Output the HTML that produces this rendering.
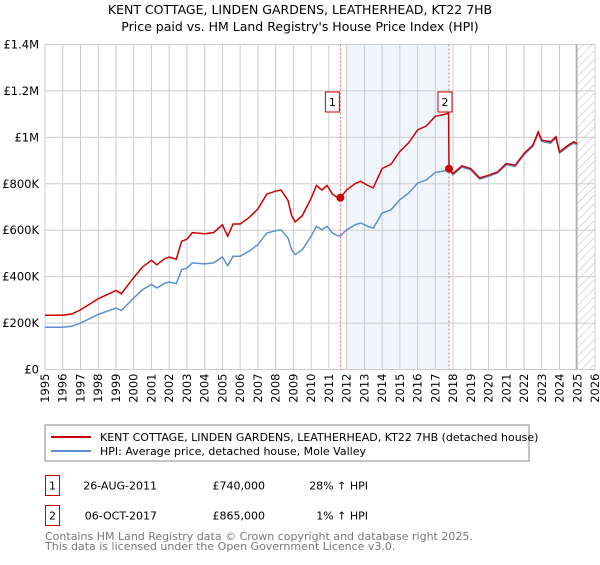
<!DOCTYPE html>
<html><head><meta charset="utf-8"><style>
body{margin:0;background:#fff;font-family:"Liberation Sans","DejaVu Sans",sans-serif;}
svg text{font-family:"DejaVu Sans","Liberation Sans",sans-serif;}
</style></head><body>
<svg id="chart" width="600" height="560" xmlns="http://www.w3.org/2000/svg">
<defs><pattern id="hatch" width="6" height="6" patternUnits="userSpaceOnUse" patternTransform="rotate(45)"><line x1="0" y1="0" x2="0" y2="6" stroke="#bbb" stroke-width="1"/></pattern></defs>
<text x="300" y="14" text-anchor="middle" font-size="12.5">KENT COTTAGE, LINDEN GARDENS, LEATHERHEAD, KT22 7HB</text>
<text x="300" y="31" text-anchor="middle" font-size="12.5">Price paid vs. HM Land Registry's House Price Index (HPI)</text>
<g id="plot"></g>
<rect x="45" y="425" width="484" height="36" fill="#fff" stroke="#888"/>
<line x1="51" y1="437" x2="91" y2="437" stroke="#cc0000" stroke-width="2"/>
<text x="100" y="441" font-size="11">KENT COTTAGE, LINDEN GARDENS, LEATHERHEAD, KT22 7HB (detached house)</text>
<line x1="51" y1="451" x2="91" y2="451" stroke="#5b8fd0" stroke-width="2"/>
<text x="100" y="455" font-size="11">HPI: Average price, detached house, Mole Valley</text>
<g>
<rect x="45.5" y="475.5" width="14" height="20" fill="none" stroke="#cc0000"/>
<text x="52.5" y="489.5" text-anchor="middle" font-size="11">1</text>
<text x="157" y="489.5" text-anchor="end" font-size="11">26-AUG-2011</text>
<text x="265" y="489.5" text-anchor="end" font-size="11">£740,000</text>
<text x="368" y="489.5" text-anchor="end" font-size="11">28% ↑ HPI</text></g>
<g>
<rect x="45.5" y="505.5" width="14" height="20" fill="none" stroke="#cc0000"/>
<text x="52.5" y="519.5" text-anchor="middle" font-size="11">2</text>
<text x="157" y="519.5" text-anchor="end" font-size="11">06-OCT-2017</text>
<text x="265" y="519.5" text-anchor="end" font-size="11">£865,000</text>
<text x="368" y="519.5" text-anchor="end" font-size="11">1% ↑ HPI</text></g>
<text x="45" y="540" font-size="11" fill="#777">Contains HM Land Registry data © Crown copyright and database right 2025.</text>
<text x="45" y="550" font-size="11" fill="#777">This data is licensed under the Open Government Licence v3.0.</text>
</svg>
<script>
const hpiYears=[1995,1996,1996.5,1997,1998,1999,1999.3,2000,2000.5,2001,2001.3,2001.7,2002,2002.4,2002.7,2003,2003.3,2004,2004.5,2005,2005.3,2005.6,2006,2006.5,2007,2007.5,2008,2008.3,2008.7,2008.9,2009.1,2009.5,2010,2010.3,2010.6,2010.9,2011.2,2011.5,2011.65,2012,2012.5,2012.8,2013.2,2013.5,2014,2014.5,2015,2015.5,2016,2016.5,2017,2017.5,2017.77,2018,2018.5,2019,2019.5,2020,2020.5,2021,2021.5,2022,2022.5,2022.8,2023,2023.5,2023.8,2024,2024.5,2024.8,2025];
const hpiValues=[182,182,186,200,237,265,254,308,344,366,351,370,377,370,430,437,459,455,459,485,447,488,488,509,538,588,598,602,566,516,495,516,574,617,602,617,588,576,576,602,624,631,617,609,674,688,731,760,803,817,849,855,860,839,872,860,820,832,846,882,875,925,961,1018,982,975,997,932,961,975,968];
const saleYears=[2011.65,2017.77];
const salePrices=[740,865];
const saleLabels=["1","2"];
const yTicks=[0,200,400,600,800,1000,1200,1400];
const yTickLabels=["£0","£200K","£400K","£600K","£800K","£1M","£1.2M","£1.4M"];
const xTicks=[1995,1996,1997,1998,1999,2000,2001,2002,2003,2004,2005,2006,2007,2008,2009,2010,2011,2012,2013,2014,2015,2016,2017,2018,2019,2020,2021,2022,2023,2024,2025,2026];
const X0=45,X1=595,Y0=369.5,Y1=44.5;
const xs=y=>X0+(y-1995)/31*(X1-X0);
const ys=v=>Y0-v/1400*(Y0-Y1);
const NS="http://www.w3.org/2000/svg";
const g=document.getElementById('plot');
function mk(t,a){const e=document.createElementNS(NS,t);for(const k in a)e.setAttribute(k,a[k]);g.appendChild(e);return e;}
function hpiAt(y){for(let i=1;i<hpiYears.length;i++){if(y<=hpiYears[i]){const t=(y-hpiYears[i-1])/(hpiYears[i]-hpiYears[i-1]);return hpiValues[i-1]+t*(hpiValues[i]-hpiValues[i-1]);}}return hpiValues[hpiValues.length-1];}
// shaded and hatched
let e=mk('rect',{x:xs(2012),y:Y1,width:xs(saleYears[1])-xs(2012),height:Y0-Y1,fill:'#eef3fc',opacity:0.8});


e=mk('rect',{x:xs(2025),y:Y1,width:X1-xs(2025),height:Y0-Y1,fill:'url(#hatch)'});


xTicks.forEach(t=>{
 const l=mk('line',{x1:xs(t),x2:xs(t),y1:Y1,y2:Y0,stroke:'#ccc','stroke-width':1});
 
 
 const tx=mk('text',{x:0,y:0,'font-size':11.5,'text-anchor':'end',transform:`translate(${xs(t)+4},${Y0+4}) rotate(-90)`});
 tx.textContent=t;
 
 
});
yTicks.forEach((t,i)=>{
 const l=mk('line',{x1:X0,x2:X1,y1:ys(t),y2:ys(t),stroke:'#ccc','stroke-width':1});
 
 
 const tx=mk('text',{x:39,y:ys(t)+4,'font-size':11.5,'text-anchor':'end'});
 tx.textContent=yTickLabels[i];
 
 
});
e=mk('line',{x1:xs(2025)-1,x2:xs(2025)-1,y1:Y1,y2:Y0,stroke:'#999'});


saleYears.forEach((s,i)=>{
 const l=mk('line',{x1:xs(s),x2:xs(s),y1:Y1,y2:Y0,stroke:'#e66','stroke-dasharray':'2,2'});
 
 
});
// HPI line
let d=hpiYears.map((y,i)=>(i?'L':'M')+xs(y).toFixed(1)+','+ys(hpiValues[i]).toFixed(1)).join('');
e=mk('path',{d:d,fill:'none',stroke:'#5b8fd0','stroke-width':1.5});


// property line indexed from sales
const r1=salePrices[0]/hpiAt(saleYears[0]),r2=salePrices[1]/hpiAt(saleYears[1]);
let pts=[];
hpiYears.forEach((y,i)=>{if(y<saleYears[1])pts.push([y,hpiValues[i]*r1]);});
pts.push([saleYears[1]-0.02,hpiAt(saleYears[1])*r1]);
pts.push([saleYears[1],salePrices[1]]);
hpiYears.forEach((y,i)=>{if(y>saleYears[1])pts.push([y,hpiValues[i]*r2]);});
d=pts.map((p,i)=>(i?'L':'M')+xs(p[0]).toFixed(1)+','+ys(p[1]).toFixed(1)).join('');
e=mk('path',{d:d,fill:'none',stroke:'#cc0000','stroke-width':1.5});


saleYears.forEach((s,i)=>{
 const c=mk('circle',{cx:xs(s),cy:ys(salePrices[i]),r:4,fill:'#cc0000'});
 
 
 const bx=xs(s)-(i===0?8:4)-7;
 const r=mk('rect',{x:bx,y:92,width:14,height:20,fill:'#fff',stroke:'#cc0000'});
 
 
 const t=mk('text',{x:bx+7,y:106,'font-size':11,'text-anchor':'middle'});
 t.textContent=saleLabels[i];
 
 
});
</script>
</body></html>
